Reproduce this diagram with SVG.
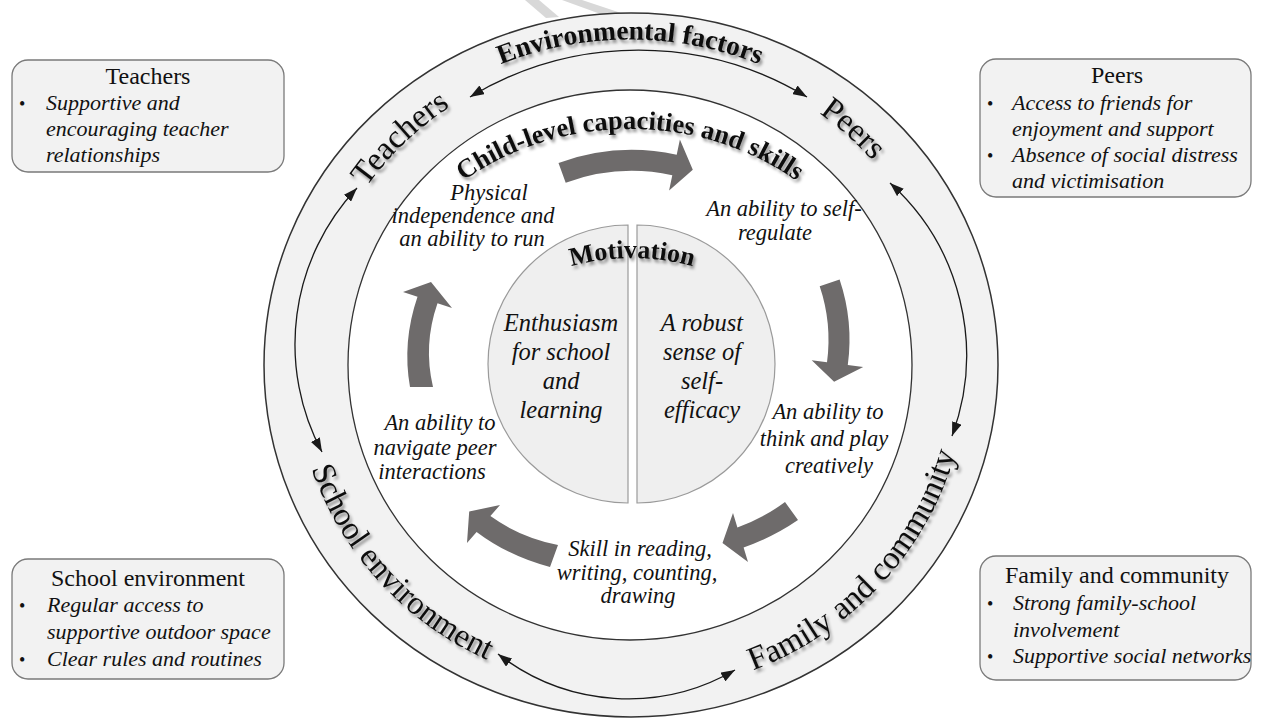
<svg xmlns="http://www.w3.org/2000/svg" width="1279" height="724" viewBox="0 0 1279 724">
  <style>
    .ring { fill: #f2f2f2; stroke: #333; stroke-width: 1.5; }
    .inner { fill: #ffffff; stroke: #333; stroke-width: 1.3; }
    .half { fill: #efefef; stroke: #9a9a9a; stroke-width: 1.2; }
    .flow { fill: #6e6b6b; }
    .link { fill: none; stroke: #1a1a1a; stroke-width: 1.3; marker-start: url(#head); marker-end: url(#head); }
    .box { fill: #f2f2f2; stroke: #7a7a7a; stroke-width: 1.3; }
    .mark { fill: #d8d8d8; }
    .serif { font-family: "Liberation Serif", "Times New Roman", serif; fill: #111; }
    .title { font-size: 24px; text-anchor: middle; }
    .item { font-size: 22px; font-style: italic; }
    .bullet { font-size: 18px; }
    .skill { font-size: 22.5px; font-style: italic; text-anchor: middle; }
    .core { font-size: 24.5px; font-style: italic; text-anchor: middle; }
    .band { font-size: 33px; filter: url(#shadow); }
    .heading { font-weight: bold; filter: url(#shadow); }
  </style>
  <defs>
    <filter id="shadow" x="-10%" y="-30%" width="120%" height="160%">
      <feDropShadow dx="2" dy="3" stdDeviation="1.6" flood-color="#000" flood-opacity="0.42"/>
    </filter>
    <marker id="head" viewBox="0 0 14 10" refX="14" refY="5" markerWidth="14" markerHeight="10" markerUnits="userSpaceOnUse" orient="auto-start-reverse">
      <path d="M0,0 L14,5 L0,10 Z" fill="#1a1a1a"/>
    </marker>
    <!-- baselines for curved labels -->
    <path id="arcEnv" d="M312.4,254 A338,326 0 0 1 947.6,254"/>
    <path id="arcChild" d="M380,284.3 A266,236 0 0 1 880,284.3"/>
    <path id="arcTeach" d="M309,365 A321,312 0 0 1 630,53"/>
    <path id="arcPeers" d="M618.8,53.2 A321,312 0 0 1 950.8,354.1"/>
    <path id="arcSchool" d="M297.9,315.7 A336,326 0 0 0 637.6,690.9"/>
    <path id="arcFamily" d="M619.4,692.8 A338,328 0 0 0 964.5,318.2"/>
    <path id="arcMotiv" d="M519.5,288.1 A225,225 0 0 1 744.5,288.1"/>
  </defs>

  <!-- faint marks along the top edge -->
  <g id="top-marks">
    <polygon class="mark" points="525,0 539,0 559,17 546,18"/>
    <polygon class="mark" points="562,0 582,0 621,13 606,16"/>
  </g>

  <!-- outer band: environmental factors -->
  <g id="environment">
    <ellipse class="ring" cx="631" cy="365" rx="367" ry="352"/>
    <ellipse class="inner" cx="630" cy="365" rx="282" ry="275"/>
    <text class="serif heading" font-size="27.5"><textPath href="#arcEnv" startOffset="50%" text-anchor="middle">Environmental factors</textPath></text>
  </g>

  <g id="teachers-label">
    <text class="serif band"><textPath href="#arcTeach" startOffset="50%" text-anchor="middle">Teachers</textPath></text>
  </g>
  <g id="peers-label">
    <text class="serif band"><textPath href="#arcPeers" startOffset="50%" text-anchor="middle">Peers</textPath></text>
  </g>
  <g id="school-label">
    <text class="serif band"><textPath href="#arcSchool" startOffset="50%" text-anchor="middle">School environment</textPath></text>
  </g>
  <g id="family-label">
    <text class="serif band" font-size="33.5"><textPath href="#arcFamily" startOffset="50%" text-anchor="middle">Family and community</textPath></text>
  </g>

  <!-- connectors between the environmental factors -->
  <g id="connectors">
    <path class="link" d="M470,97 A326,326 0 0 1 807,97"/>
    <path class="link" d="M357,188 A228,228 0 0 0 322,452"/>
    <path class="link" d="M890,183 A232,232 0 0 1 952,436"/>
    <path class="link" d="M498,654 A212,212 0 0 0 735,670"/>
  </g>

  <!-- child-level capacities and skills -->
  <g id="child-level">
    <text class="serif heading" font-size="26.5"><textPath href="#arcChild" startOffset="50%" text-anchor="middle">Child-level capacities and skills</textPath></text>
  </g>

  <g id="cycle-arrows">
    <path class="flow" d="M558.5,163 A215,215 0 0 1 676.7,154.7 L679.9,139.5 L692.8,169.7 L669.1,190.4 L672.3,175.2 A194,194 0 0 0 565.7,182.7 Z"/>
    <path class="flow" d="M839.6,279.5 A189.5,189.5 0 0 1 847.8,365.1 L863.2,367.1 L834.1,381.8 L811.7,360.2 L827,362.3 A168.5,168.5 0 0 0 819.7,286.2 Z"/>
    <path class="flow" d="M798,520 Q773.2,537 743.6,547.5 L748,562 L722.5,543 L733,513 L737.4,527.5 Q763.6,518 785,502 Z"/>
    <path class="flow" d="M550,567 Q509,556.3 476.6,531.9 L467,543 L469.2,511.5 L500,505 L490.4,516.1 Q520,537.4 558,545 Z"/>
    <path class="flow" d="M410,387 Q402,342 417.5,296.7 L403,292 L431,282 L452,308 L437.5,303.3 Q423,345 433,387 Z"/>
  </g>

  <g id="skill-run">
    <text class="serif skill"><tspan x="489" y="200">Physical</tspan><tspan x="473" y="223">independence and</tspan><tspan x="472" y="246">an ability to run</tspan></text>
  </g>
  <g id="skill-regulate">
    <text class="serif skill"><tspan x="784" y="216">An ability to self-</tspan><tspan x="775" y="240">regulate</tspan></text>
  </g>
  <g id="skill-create">
    <text class="serif skill"><tspan x="828" y="419">An ability to</tspan><tspan x="824" y="446">think and play</tspan><tspan x="829" y="473">creatively</tspan></text>
  </g>
  <g id="skill-literacy">
    <text class="serif skill"><tspan x="640" y="556">Skill in reading,</tspan><tspan x="637" y="580">writing, counting,</tspan><tspan x="638" y="603">drawing</tspan></text>
  </g>
  <g id="skill-peers">
    <text class="serif skill"><tspan x="440" y="430">An ability to</tspan><tspan x="435" y="455">navigate peer</tspan><tspan x="432" y="479">interactions</tspan></text>
  </g>

  <!-- motivation core -->
  <g id="motivation">
    <path class="half" d="M628,225 A140,139 0 0 0 628,503 Z"/>
    <path class="half" d="M637,225 A138,139 0 0 1 637,503 Z"/>
    <text class="serif heading" font-size="26"><textPath href="#arcMotiv" startOffset="50%" text-anchor="middle">Motivation</textPath></text>
    <text class="serif core"><tspan x="561" y="331">Enthusiasm</tspan><tspan x="561" y="360">for school</tspan><tspan x="561" y="389">and</tspan><tspan x="561" y="418">learning</tspan></text>
    <text class="serif core"><tspan x="702" y="331">A robust</tspan><tspan x="702" y="360">sense of</tspan><tspan x="702" y="389">self-</tspan><tspan x="702" y="418">efficacy</tspan></text>
  </g>

  <!-- factor detail boxes -->
  <g id="box-teachers">
    <rect class="box" x="12" y="60" width="272" height="112" rx="16"/>
    <text class="serif title" x="148" y="84">Teachers</text>
    <text class="serif bullet" x="19" y="110">•</text>
    <text class="serif item"><tspan x="46" y="110">Supportive and</tspan><tspan x="46" y="136">encouraging teacher</tspan><tspan x="46" y="162">relationships</tspan></text>
  </g>
  <g id="box-peers">
    <rect class="box" x="980" y="59" width="271" height="138" rx="16"/>
    <text class="serif title" x="1117" y="83">Peers</text>
    <text class="serif bullet" x="987" y="110">•</text>
    <text class="serif bullet" x="987" y="162">•</text>
    <text class="serif item"><tspan x="1012" y="110">Access to friends for</tspan><tspan x="1012" y="136">enjoyment and support</tspan><tspan x="1012" y="162">Absence of social distress</tspan><tspan x="1012" y="188">and victimisation</tspan></text>
  </g>
  <g id="box-school">
    <rect class="box" x="12" y="559" width="272" height="120" rx="16"/>
    <text class="serif title" x="148" y="586">School environment</text>
    <text class="serif bullet" x="19" y="612">•</text>
    <text class="serif bullet" x="19" y="666">•</text>
    <text class="serif item"><tspan x="47" y="612">Regular access to</tspan><tspan x="47" y="639">supportive outdoor space</tspan><tspan x="47" y="666">Clear rules and routines</tspan></text>
  </g>
  <g id="box-family">
    <rect class="box" x="980" y="556" width="271" height="124" rx="16"/>
    <text class="serif title" x="1117" y="583">Family and community</text>
    <text class="serif bullet" x="987" y="610">•</text>
    <text class="serif bullet" x="987" y="663">•</text>
    <text class="serif item"><tspan x="1013" y="610">Strong family-school</tspan><tspan x="1013" y="637">involvement</tspan><tspan x="1013" y="663">Supportive social networks</tspan></text>
  </g>
</svg>
